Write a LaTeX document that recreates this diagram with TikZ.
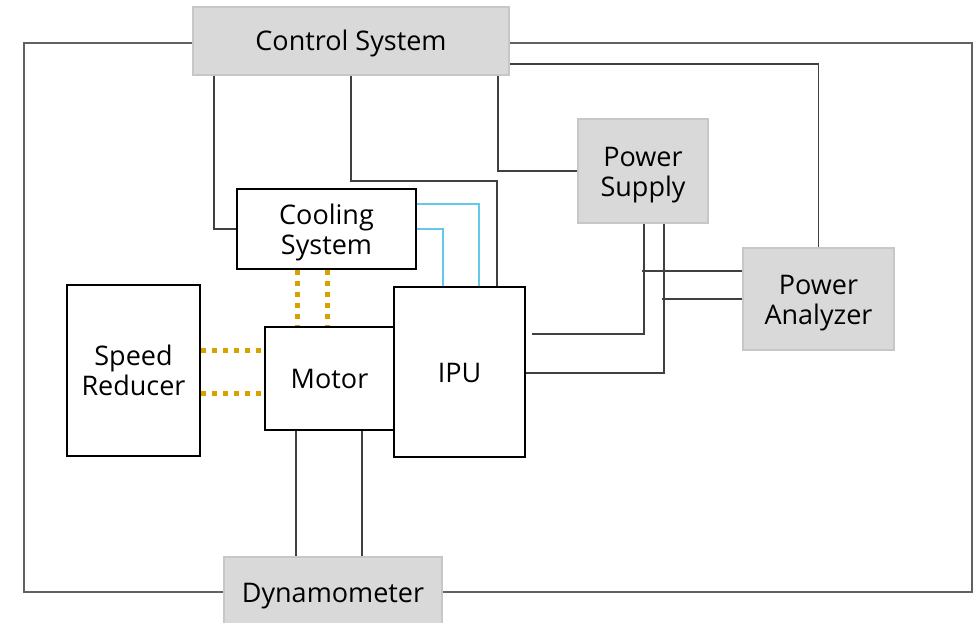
\documentclass[tikz,border=0pt]{standalone}
\usepackage{fontspec}
\setmainfont{Open Sans}
\newcommand{\tline}[1]{\raisebox{0pt}[20pt][0pt]{#1}}
\begin{document}
\begin{tikzpicture}[x=1pt,y=-1pt,
  every node/.style={font=\fontsize{27}{30}\selectfont, align=center, inner sep=0pt, text=black},
  graybox/.style={draw=black!22, line width=2pt, fill=black!15},
  whitebox/.style={draw=black, line width=2pt, fill=white},
  wire/.style={draw=black!75, line width=1.2pt},
  loopwire/.style={draw=black!62, line width=1.5pt},
  coolwire/.style={draw={rgb,255:red,100;green,200;blue,232}, line width=2.5pt},
  mech/.style={draw={rgb,255:red,214;green,162;blue,0}, line width=5pt, dash pattern=on 5pt off 6pt}]
\useasboundingbox (0,0) rectangle (979,623);
\coordinate (lp) at (24,592);
\coordinate (rp) at (972,592);
\node[graybox, minimum width=316pt, minimum height=68pt] (ctrl) at (351,41) {\tline{Control System}};
\node[graybox, minimum width=218pt, minimum height=70pt] (dyn) at (333,592) {\tline{Dynamometer}};
\node[graybox, minimum width=130pt, minimum height=104pt] (ps) at (643,171) {\tline{Power}\\\tline{Supply}};
\node[graybox, minimum width=151pt, minimum height=102pt] (pa) at (818.5,299) {\tline{Power}\\\tline{Analyzer}};
\node[whitebox, minimum width=179pt, minimum height=80pt] (cool) at (326.5,229) {\tline{Cooling}\\\tline{System}};
\node[whitebox, minimum width=133pt, minimum height=171pt] (sr) at (133.5,370.5) {\tline{Speed}\\\tline{Reducer}};
\node[whitebox, minimum width=129pt, minimum height=103pt] (mot) at (329.5,378.5) {\tline{Motor}};
\node[whitebox, minimum width=131pt, minimum height=170pt] (ipu) at (459.5,372) {\tline{IPU}};
% outer loop
\draw[loopwire] (ctrl.west |- 0,43) -| (lp) -- (dyn.west);
\draw[loopwire] (ctrl.east |- 0,43) -| (rp) -- (dyn.east);
% control to analyzer
\draw[wire] (ctrl.east |- 0,64) -| (pa.north);
% control to cooling
\draw[wire] (214,0 |- ctrl.south) |- (cool.west);
% control to IPU
\draw[wire] (ctrl.south) -- (351,181) -- (497,181) -- (497,0 |- ipu.north);
% control to power supply
\draw[wire] (498,0 |- ctrl.south) |- (ps.west);
% cooling to IPU
\draw[coolwire] (cool.east |- 0,204) -| (479,0 |- ipu.north);
\draw[coolwire] (cool.east) -| (443,0 |- ipu.north);
% mechanical couplings
\draw[mech] (sr.east |- 0,350) -- (mot.west |- 0,350);
\draw[mech] (sr.east |- 0,393) -- (mot.west |- 0,393);
\draw[mech] (297,0 |- cool.south) -- (297,0 |- mot.north);
\draw[mech] (327,0 |- cool.south) -- (327,0 |- mot.north);
% motor to dynamometer
\draw[wire] (296,0 |- mot.south) -- (296,0 |- dyn.north);
\draw[wire] (362,0 |- mot.south) -- (362,0 |- dyn.north);
% power supply to IPU
\draw[wire] (644,0 |- ps.south) |- ([xshift=6pt]ipu.east |- 0,334);
\draw[wire] (664,0 |- ps.south) |- (ipu.east |- 0,373);
% analyzer taps
\coordinate (t1) at (642,271);
\coordinate (t2) at (662,299);
\draw[wire] (pa.west |- 0,271) -- (t1);
\draw[wire] (pa.west) -- (t2);
\end{tikzpicture}
\end{document}
